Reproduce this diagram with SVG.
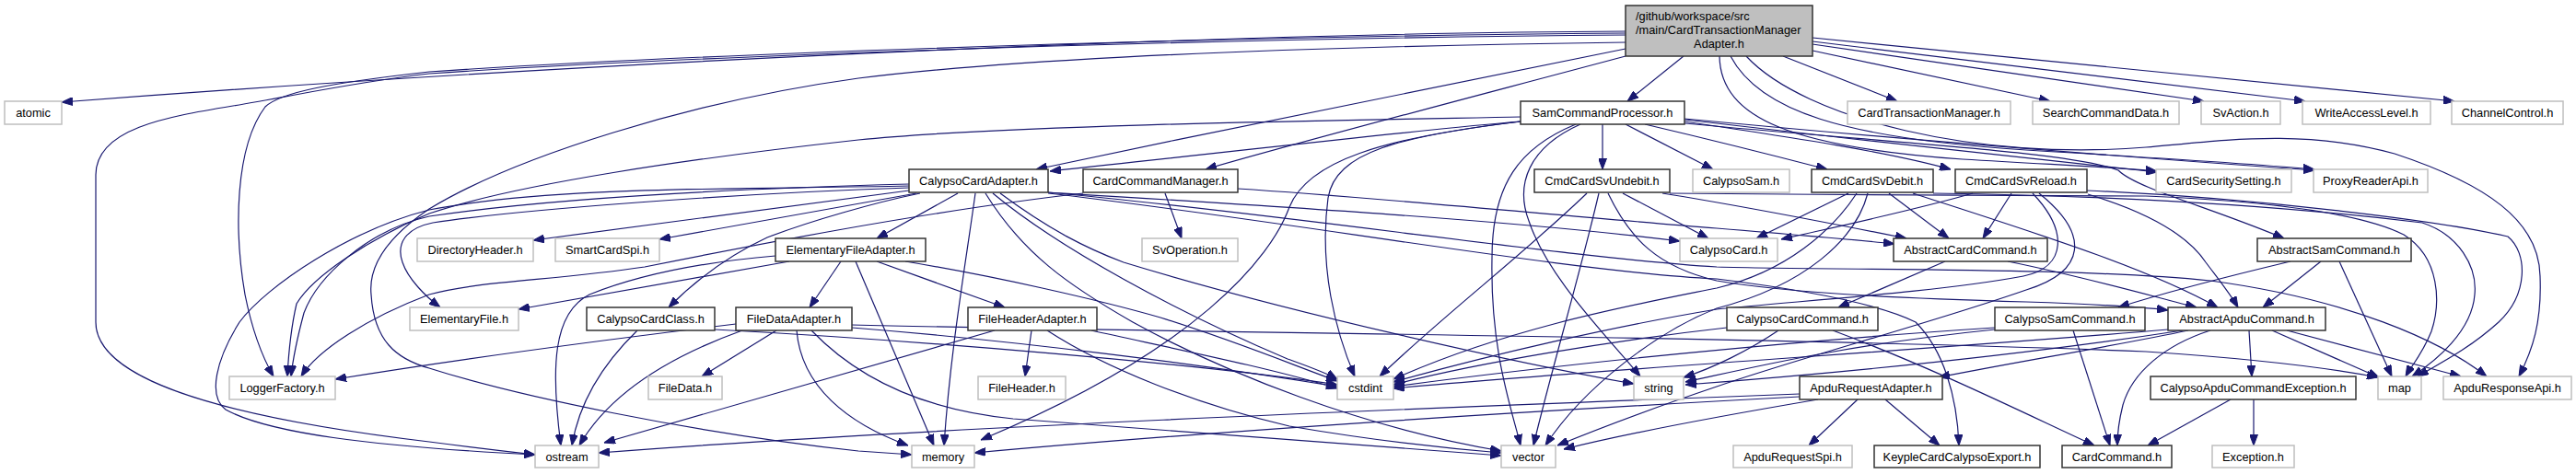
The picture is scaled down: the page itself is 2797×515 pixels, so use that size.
<svg xmlns="http://www.w3.org/2000/svg" width="2797" height="515" viewBox="0 0 2797 515">
<style>
.n rect{fill:#fff;stroke:#bfbfbf;stroke-width:1.5}
.d rect{fill:#fff;stroke:#333;stroke-width:1.5}
text{font-family:"Liberation Sans",Arial,sans-serif;font-size:12.8px;fill:#000}
.n text,.d text{text-anchor:middle}
#edges path{fill:none;stroke:#191970;stroke-width:1.2;marker-end:url(#arr)}
</style>
<defs>
<marker id="arr" viewBox="0 0 12 9" refX="12" refY="4.5" markerWidth="12" markerHeight="9" markerUnits="userSpaceOnUse" orient="auto">
<path d="M0,0 L12,4.5 L0,9 z" fill="#191970" stroke="#191970" stroke-width="1"/>
</marker>
</defs>
<rect width="2797" height="515" fill="#fff"/>
<g id="edges">
<path d="M1765,34 C1300,36 600,70 67,111"/>
<path d="M1765,36 C1250,40 700,62 466,78 C360,90 305,100 288,116 C255,160 254,250 266,320 C274,360 286,390 297,409"/>
<path d="M1765,38 C1250,42 700,64 466,80 C380,90 320,104 253,115 C180,127 104,140 104,190 L104,350 C104,410 230,452 466,480 C520,487 555,491 581,494"/>
<path d="M1765,46 C1300,52 1050,70 932,85 C750,110 560,170 466,227 C420,258 400,290 403,320 C406,370 430,390 466,400 C560,430 750,470 932,490 L990,494"/>
<path d="M1828,61 L1767,110"/>
<path d="M1765,53 C1600,86 1350,136 1125,184"/>
<path d="M1765,61 C1600,105 1400,157 1309,184"/>
<path d="M1936,61 L2060,110"/>
<path d="M1968,55 L2226,110"/>
<path d="M1968,48 L2393,110"/>
<path d="M1968,45 L2503,110"/>
<path d="M1968,41 L2665,110"/>
<path d="M1867,61 C1868,130 1950,160 2131,173 C2250,180 2300,182 2342,186"/>
<path d="M1879,61 C1910,120 2000,150 2200,163 C2350,172 2450,178 2513,184"/>
<path d="M1896,61 C1960,130 2150,175 2330,160 C2420,152 2500,140 2600,167 C2700,200 2757,240 2758,300 C2760,350 2750,380 2735,409"/>
<path d="M1651,127 C1500,130 1100,135 932,152 C750,172 560,200 466,232 C400,260 340,300 322,330 C315,360 313,390 312,409"/>
<path d="M1651,132 C1500,150 1420,175 1400,225 C1380,280 1300,380 1065,478"/>
<path d="M1651,132 C1550,140 1400,158 1140,186"/>
<path d="M1740,135 L1740,184"/>
<path d="M1765,135 L1860,184"/>
<path d="M1786,135 C1850,150 1930,170 1984,184"/>
<path d="M1829,132 C1950,150 2050,165 2118,184"/>
<path d="M1829,130 C2000,150 2200,172 2342,187"/>
<path d="M1829,129 C2050,150 2300,170 2513,185"/>
<path d="M1829,134 C2050,155 2250,165 2300,185 C2320,205 2400,225 2480,259"/>
<path d="M1651,132 C1520,148 1450,165 1442,215 C1432,290 1450,360 1471,409"/>
<path d="M1711,135 C1650,160 1620,200 1620,280 C1618,380 1640,440 1651,484"/>
<path d="M1716,135 C1660,160 1645,200 1660,240 C1680,300 1740,360 1781,409"/>
<path d="M987,200 C800,205 600,215 466,235 C400,250 345,300 330,340 C322,370 318,390 316,409"/>
<path d="M987,202 C800,206 600,202 466,228 C380,250 290,310 260,350 C235,390 225,430 245,445 C290,470 400,485 581,494"/>
<path d="M987,204 C800,210 560,228 470,242 C440,248 430,265 437,285 C443,303 462,322 478,334"/>
<path d="M987,207 L579,261"/>
<path d="M995,210 L716,260"/>
<path d="M1040,210 L952,259"/>
<path d="M999,210 C950,220 880,240 833,258 C790,278 755,305 726,334"/>
<path d="M1059,210 C1048,290 1032,380 1025,484"/>
<path d="M1070,210 C1110,275 1160,310 1230,350 C1330,405 1480,465 1630,490"/>
<path d="M1078,210 C1150,270 1280,340 1398,390 C1420,398 1440,405 1452,412"/>
<path d="M1086,210 C1140,250 1180,270 1220,285 C1400,340 1650,395 1774,417"/>
<path d="M1138,209 C1400,225 1650,240 1824,262"/>
<path d="M1138,209 C1400,233 1700,280 1864,290 C2000,294 2250,290 2400,305 C2550,325 2650,370 2700,409"/>
<path d="M1138,210 C1400,240 1700,295 1864,303 C1960,315 2040,330 2080,350 C2110,380 2125,430 2127,484"/>
<path d="M1176,210 C1000,230 800,270 700,290 C600,305 520,305 466,320 C400,345 345,380 327,409"/>
<path d="M1265,210 L1283,259"/>
<path d="M1344,205 C1500,215 1700,235 1864,248 C1950,255 2010,260 2057,265"/>
<path d="M857,284 L563,336"/>
<path d="M842,278 C760,285 690,300 640,320 C600,340 598,400 609,484"/>
<path d="M913,284 L879,334"/>
<path d="M952,284 L1091,334"/>
<path d="M929,284 L1014,484"/>
<path d="M983,284 C1080,300 1190,325 1260,345 C1340,370 1400,395 1452,414"/>
<path d="M692,359 C660,390 630,430 621,484"/>
<path d="M776,358 C1000,370 1300,395 1452,418"/>
<path d="M799,352 C650,370 500,390 364,412"/>
<path d="M843,359 L762,409"/>
<path d="M806,359 C720,390 660,430 629,484"/>
<path d="M865,359 C870,420 920,460 986,484"/>
<path d="M881,359 C930,410 1000,445 1100,455 C1300,470 1500,485 1630,495"/>
<path d="M925,356 C1100,370 1300,395 1452,420"/>
<path d="M925,353 C1300,362 1900,365 2330,382 C2450,390 2530,400 2582,410"/>
<path d="M1120,359 L1113,409"/>
<path d="M1080,359 L656,481"/>
<path d="M1185,359 C1280,380 1380,400 1452,422"/>
<path d="M1137,359 C1200,400 1300,440 1400,463 C1500,480 1580,488 1630,492"/>
<path d="M1723,210 C1650,280 1570,340 1498,409"/>
<path d="M1736,210 C1715,300 1685,400 1665,484"/>
<path d="M1746,210 C1770,260 1800,290 1864,305 C1950,320 2100,325 2200,328 C2260,330 2310,332 2354,337"/>
<path d="M1762,210 L1855,259"/>
<path d="M1805,210 C1900,225 2000,245 2070,259"/>
<path d="M1813,210 C2000,212 2250,212 2330,213 C2450,218 2560,230 2610,255 C2650,280 2650,330 2640,360 C2630,385 2618,398 2612,409"/>
<path d="M2007,210 L1907,259"/>
<path d="M2016,210 C1990,250 1940,295 1864,313 C1780,330 1640,355 1513,412"/>
<path d="M2028,210 C2015,260 1960,310 1864,335 C1800,360 1720,420 1678,484"/>
<path d="M2051,210 L2116,259"/>
<path d="M2077,210 C2200,250 2330,290 2408,334"/>
<path d="M2099,210 C2250,212 2450,220 2630,242 C2670,255 2690,290 2687,320 C2684,360 2645,392 2619,409"/>
<path d="M2142,210 C2080,228 2000,245 1934,260"/>
<path d="M2184,210 L2153,259"/>
<path d="M2207,210 C2245,250 2245,290 2197,300 C2100,318 1950,327 1864,336 C1750,355 1620,385 1513,415"/>
<path d="M2214,210 C2270,255 2265,295 2200,315 C2100,350 1950,390 1864,420 C1790,445 1730,468 1691,484"/>
<path d="M2266,207 C2450,215 2650,240 2723,257 C2745,275 2745,320 2713,350 C2680,380 2645,397 2625,409"/>
<path d="M2267,211 C2330,230 2375,255 2395,285 C2410,305 2422,320 2430,334"/>
<path d="M2112,284 L1996,334"/>
<path d="M2180,284 C2260,300 2330,320 2385,334"/>
<path d="M2487,284 C2420,300 2350,318 2300,334"/>
<path d="M2520,284 L2457,334"/>
<path d="M2540,284 L2597,409"/>
<path d="M1875,356 C1750,370 1600,395 1513,418"/>
<path d="M1931,359 C1900,380 1860,400 1828,410"/>
<path d="M1990,359 C2100,400 2200,450 2274,484"/>
<path d="M2166,356 C1950,370 1700,395 1513,420"/>
<path d="M2166,358 C2000,375 1900,400 1830,415"/>
<path d="M2251,359 L2291,484"/>
<path d="M2354,358 C2100,380 1750,400 1513,422"/>
<path d="M2370,359 C2200,385 2000,405 1830,418"/>
<path d="M2376,359 C2300,375 2180,395 2105,410"/>
<path d="M2442,359 L2445,409"/>
<path d="M2400,359 C2350,375 2315,405 2305,440 C2300,460 2299,475 2299,484"/>
<path d="M2467,359 L2583,410"/>
<path d="M2483,359 L2672,409"/>
<path d="M2017,434 L1964,484"/>
<path d="M2047,434 L2106,484"/>
<path d="M1954,428 C1500,445 1000,465 650,492"/>
<path d="M1954,431 C1600,450 1300,470 1058,492"/>
<path d="M1974,434 C1850,455 1750,475 1698,488"/>
<path d="M2422,434 L2332,484"/>
<path d="M2447,434 L2447,484"/>
</g>
<g id="root">
<rect x="1765" y="6" width="203" height="55" fill="#bfbfbf" stroke="#333" stroke-width="1.5"/>
<text x="1776" y="22">/github/workspace/src</text>
<text x="1776" y="37">/main/CardTransactionManager</text>
<text x="1866.5" y="52" text-anchor="middle">Adapter.h</text>
</g>
<g id="n_atomic" class="n"><rect x="5" y="110" width="62" height="25"/><text x="36" y="127">atomic</text></g>
<g id="n_scp" class="d"><rect x="1651" y="110" width="178" height="25"/><text x="1740" y="127">SamCommandProcessor.h</text></g>
<g id="n_ctm" class="n"><rect x="2006" y="110" width="177" height="25"/><text x="2094.5" y="127">CardTransactionManager.h</text></g>
<g id="n_scd" class="n"><rect x="2207" y="110" width="159" height="25"/><text x="2286.5" y="127">SearchCommandData.h</text></g>
<g id="n_svaction" class="n"><rect x="2390" y="110" width="86" height="25"/><text x="2433" y="127">SvAction.h</text></g>
<g id="n_wal" class="n"><rect x="2500" y="110" width="139" height="25"/><text x="2569.5" y="127">WriteAccessLevel.h</text></g>
<g id="n_channel" class="n"><rect x="2662" y="110" width="121" height="25"/><text x="2722.5" y="127">ChannelControl.h</text></g>
<g id="n_cca" class="d"><rect x="987" y="184" width="151" height="25"/><text x="1062.5" y="201">CalypsoCardAdapter.h</text></g>
<g id="n_ccm" class="d"><rect x="1176" y="184" width="168" height="25"/><text x="1260" y="201">CardCommandManager.h</text></g>
<g id="n_undebit" class="d"><rect x="1666" y="184" width="147" height="25"/><text x="1739.5" y="201">CmdCardSvUndebit.h</text></g>
<g id="n_calypsosam" class="n"><rect x="1838" y="184" width="105" height="25"/><text x="1890.5" y="201">CalypsoSam.h</text></g>
<g id="n_debit" class="d"><rect x="1967" y="184" width="132" height="25"/><text x="2033" y="201">CmdCardSvDebit.h</text></g>
<g id="n_reload" class="d"><rect x="2123" y="184" width="143" height="25"/><text x="2194.5" y="201">CmdCardSvReload.h</text></g>
<g id="n_css" class="n"><rect x="2341" y="184" width="147" height="25"/><text x="2414.5" y="201">CardSecuritySetting.h</text></g>
<g id="n_pra" class="n"><rect x="2512" y="184" width="124" height="25"/><text x="2574" y="201">ProxyReaderApi.h</text></g>
<g id="n_dirheader" class="n"><rect x="453" y="259" width="126" height="25"/><text x="516" y="276">DirectoryHeader.h</text></g>
<g id="n_smartcardspi" class="n"><rect x="603" y="259" width="113" height="25"/><text x="659.5" y="276">SmartCardSpi.h</text></g>
<g id="n_efa" class="d"><rect x="842" y="259" width="163" height="25"/><text x="923.5" y="276">ElementaryFileAdapter.h</text></g>
<g id="n_svop" class="n"><rect x="1240" y="259" width="104" height="25"/><text x="1292" y="276">SvOperation.h</text></g>
<g id="n_calypsocard" class="n"><rect x="1824" y="259" width="106" height="25"/><text x="1877" y="276">CalypsoCard.h</text></g>
<g id="n_acc" class="d"><rect x="2056" y="259" width="167" height="25"/><text x="2139.5" y="276">AbstractCardCommand.h</text></g>
<g id="n_asc" class="d"><rect x="2451" y="259" width="167" height="25"/><text x="2534.5" y="276">AbstractSamCommand.h</text></g>
<g id="n_ef" class="n"><rect x="445" y="334" width="118" height="25"/><text x="504" y="351">ElementaryFile.h</text></g>
<g id="n_ccc" class="d"><rect x="637" y="334" width="139" height="25"/><text x="706.5" y="351">CalypsoCardClass.h</text></g>
<g id="n_fda" class="d"><rect x="799" y="334" width="126" height="25"/><text x="862" y="351">FileDataAdapter.h</text></g>
<g id="n_fha" class="d"><rect x="1051" y="334" width="140" height="25"/><text x="1121" y="351">FileHeaderAdapter.h</text></g>
<g id="n_ccmd" class="d"><rect x="1875" y="334" width="164" height="25"/><text x="1957" y="351">CalypsoCardCommand.h</text></g>
<g id="n_cscmd" class="d"><rect x="2166" y="334" width="163" height="25"/><text x="2247.5" y="351">CalypsoSamCommand.h</text></g>
<g id="n_aac" class="d"><rect x="2354" y="334" width="171" height="25"/><text x="2439.5" y="351">AbstractApduCommand.h</text></g>
<g id="n_lf" class="n"><rect x="249" y="409" width="115" height="25"/><text x="306.5" y="426">LoggerFactory.h</text></g>
<g id="n_filedata" class="n"><rect x="704" y="409" width="80" height="25"/><text x="744" y="426">FileData.h</text></g>
<g id="n_fileheader" class="n"><rect x="1062" y="409" width="95" height="25"/><text x="1109.5" y="426">FileHeader.h</text></g>
<g id="n_cstdint" class="n"><rect x="1452" y="409" width="61" height="25"/><text x="1482.5" y="426">cstdint</text></g>
<g id="n_string" class="n"><rect x="1774" y="409" width="54" height="25"/><text x="1801" y="426">string</text></g>
<g id="n_ara" class="d"><rect x="1954" y="409" width="155" height="25"/><text x="2031.5" y="426">ApduRequestAdapter.h</text></g>
<g id="n_cace" class="d"><rect x="2335" y="409" width="223" height="25"/><text x="2446.5" y="426">CalypsoApduCommandException.h</text></g>
<g id="n_map" class="n"><rect x="2582" y="409" width="47" height="25"/><text x="2605.5" y="426">map</text></g>
<g id="n_arapi" class="n"><rect x="2653" y="409" width="139" height="25"/><text x="2722.5" y="426">ApduResponseApi.h</text></g>
<g id="n_ostream" class="n"><rect x="581" y="484" width="69" height="24"/><text x="615.5" y="501">ostream</text></g>
<g id="n_memory" class="n"><rect x="990" y="484" width="68" height="24"/><text x="1024" y="501">memory</text></g>
<g id="n_vector" class="n"><rect x="1630" y="484" width="59" height="24"/><text x="1659.5" y="501">vector</text></g>
<g id="n_arspi" class="n"><rect x="1882" y="484" width="129" height="24"/><text x="1946.5" y="501">ApduRequestSpi.h</text></g>
<g id="n_kcce" class="d"><rect x="2035" y="484" width="180" height="24"/><text x="2125" y="501">KeypleCardCalypsoExport.h</text></g>
<g id="n_cardcommand" class="d"><rect x="2239" y="484" width="119" height="24"/><text x="2298.5" y="501">CardCommand.h</text></g>
<g id="n_exception" class="n"><rect x="2402" y="484" width="89" height="24"/><text x="2446.5" y="501">Exception.h</text></g>
</svg>
